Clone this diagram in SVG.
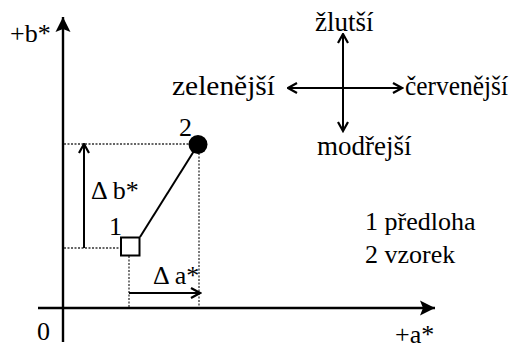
<svg xmlns="http://www.w3.org/2000/svg" width="514" height="350" viewBox="0 0 514 350">
<style>
.ax{stroke:#000;stroke-width:2.4;fill:none}
.ln{stroke:#000;stroke-width:2;fill:none}
.dot{stroke:#333;stroke-width:1.3;stroke-dasharray:2,1.5;fill:none}
.dir{font-size:27px}
</style>
<defs>
<marker id="chev" viewBox="0 0 12 12" refX="10.5" refY="6" markerWidth="12" markerHeight="12" markerUnits="userSpaceOnUse" orient="auto-start-reverse">
<path d="M1.5,1 L10.5,6 L1.5,11" stroke="#000" stroke-width="2.2" fill="none"/>
</marker>
<marker id="tri" viewBox="0 0 16 16" refX="15" refY="8" markerWidth="16" markerHeight="16" markerUnits="userSpaceOnUse" orient="auto">
<path d="M0,0.5 L15,8 L0,15.5 L3,8 z" fill="#000"/>
</marker>
</defs>
<rect width="514" height="350" fill="#fff"/>
<g font-family="Liberation Serif, DejaVu Serif, serif" font-size="26" fill="#000">
<g id="axes">
<line class="ax" x1="63" y1="342" x2="63" y2="17" marker-end="url(#tri)"/>
<line class="ax" x1="38" y1="308" x2="435" y2="308" marker-end="url(#tri)"/>
<text x="10" y="42">+b*</text>
<text x="395" y="343">+a*</text>
<text x="37" y="340">0</text>
</g>
<g id="connectors">
<line class="dot" x1="64" y1="144" x2="190" y2="144"/>
<line class="dot" x1="199" y1="153" x2="199" y2="307"/>
<line class="dot" x1="64" y1="248" x2="121" y2="248"/>
<line class="dot" x1="129" y1="256" x2="129" y2="307"/>
<line class="ln" x1="140" y1="237" x2="194" y2="151"/>
<line class="ln" x1="84" y1="248" x2="84" y2="144" marker-end="url(#chev)"/>
<line class="ln" x1="129" y1="293" x2="200" y2="293" marker-end="url(#chev)"/>
<line class="ln" x1="343" y1="34" x2="343" y2="131" marker-start="url(#chev)" marker-end="url(#chev)"/>
<line class="ln" x1="288" y1="88" x2="402" y2="88" marker-start="url(#chev)" marker-end="url(#chev)"/>
</g>
<g id="point1">
<rect x="121" y="237.5" width="18.5" height="18" fill="#fff" stroke="#000" stroke-width="2"/>
<text x="109" y="235">1</text>
</g>
<g id="point2">
<circle cx="198" cy="144.5" r="9.5" fill="#000"/>
<text x="179" y="136">2</text>
</g>
<g id="delta-b"><text x="91" y="199">Δ b*</text></g>
<g id="delta-a"><text x="153" y="284">Δ a*</text></g>
<g id="dir-yellow"><text class="dir" x="315" y="31">žlutší</text></g>
<g id="dir-green"><text class="dir" x="172" y="95" textLength="103" lengthAdjust="spacingAndGlyphs">zelenější</text></g>
<g id="dir-red"><text class="dir" x="405" y="95" textLength="103" lengthAdjust="spacingAndGlyphs">červenější</text></g>
<g id="dir-blue"><text class="dir" x="317" y="155">modřejší</text></g>
<g id="legend">
<text x="365" y="230">1 předloha</text>
<text x="365" y="263">2 vzorek</text>
</g>
</g>
</svg>
